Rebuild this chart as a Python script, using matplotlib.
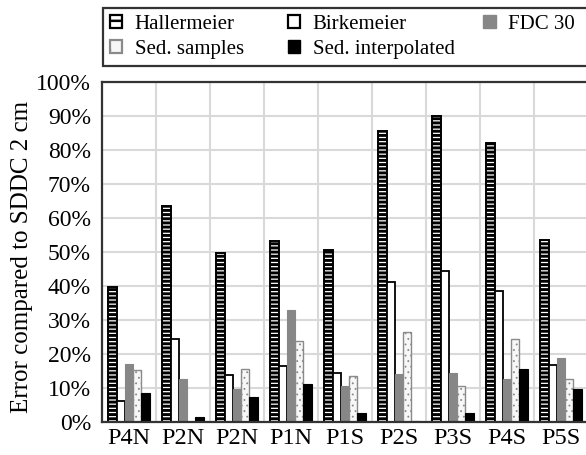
import matplotlib
matplotlib.use("Agg")
import matplotlib.pyplot as plt
import numpy as np
from matplotlib.patches import Patch

categories = ["P4N", "P2N", "P2N", "P1N", "P1S", "P2S", "P3S", "P4S", "P5S"]
hallermeier = [39.8, 63.5, 49.7, 53.2, 50.6, 85.6, 90.0, 82.0, 53.5]
birkemeier = [6.3, 24.3, 13.8, 16.5, 14.5, 41.1, 44.5, 38.5, 16.8]
fdc30 = [17.0, 12.6, 9.7, 32.9, 10.6, 14.1, 14.3, 12.6, 18.9]
sed_samples = [15.3, 0.0, 15.5, 23.9, 13.5, 26.6, 10.6, 24.3, 12.6]
sed_interp = [8.4, 1.6, 7.4, 11.2, 2.6, 0.3, 2.6, 15.5, 9.6]
yticks = [0, 10, 20, 30, 40, 50, 60, 70, 80, 90, 100]

plt.rcParams['font.family'] = ['Liberation Serif', 'DejaVu Serif']

W, H = 586, 455
fig = plt.figure(figsize=(W / 100, H / 100), dpi=100)
ax = fig.add_axes([102 / W, 1 - 422 / H, 486 / W, 340 / H])

x = np.arange(len(categories))
bw = 0.152

styles = [
    dict(facecolor='white', edgecolor='black', hatch='----', linewidth=1.4, hlw=2.1, lh='--', llw=1.6),
    dict(facecolor='white', edgecolor='black', hatch=None, linewidth=1.3, hlw=1.0, lh=None, llw=1.6),
    dict(facecolor='#878787', edgecolor='#878787', hatch=None, linewidth=0.8, hlw=1.0, lh=None, llw=1.0),
    dict(facecolor='#f7f7f7', edgecolor='#8a8a8a', hatch='...', linewidth=1.0, hlw=0.6, lh='.', llw=1.6),
    dict(facecolor='black', edgecolor='black', hatch=None, linewidth=0.8, hlw=1.0, lh=None, llw=1.0),
]
series = [hallermeier, birkemeier, fdc30, sed_samples, sed_interp]
names = ["Hallermeier", "Birkemeier", "FDC 30", "Sed. samples", "Sed. interpolated"]

handles = []
for i, (vals, st, nm) in enumerate(zip(series, styles, names)):
    plt.rcParams['hatch.linewidth'] = st['hlw']
    ax.bar(x + (i - 2) * bw, vals, bw, facecolor=st['facecolor'], edgecolor=st['edgecolor'],
           hatch=st['hatch'], linewidth=st['linewidth'], zorder=3)
    handles.append(Patch(facecolor=st['facecolor'], edgecolor=st['edgecolor'],
                         hatch=st['lh'], linewidth=st['llw'], label=nm))

ax.set_xlim(-0.5, len(categories) - 0.5)
ax.set_ylim(0, 100)
ax.set_yticks(yticks)
ax.set_yticklabels([f"{v}%" for v in yticks], fontsize=17)
ax.set_xticks(x)
ax.set_xticklabels(categories, fontsize=17.5)
ax.set_xticks(np.arange(len(categories) + 1) - 0.5, minor=True)
ax.tick_params(axis='both', which='both', length=0)
ax.tick_params(axis='y', pad=8)
ax.tick_params(axis='x', pad=4)
ax.grid(True, which='minor', axis='x', color='#d9d9d9', linewidth=1.5, zorder=0)
ax.grid(True, which='major', axis='y', color='#d9d9d9', linewidth=1.5, zorder=0)
ax.grid(False, which='major', axis='x')
for s in ax.spines.values():
    s.set_color('#333333')
    s.set_linewidth(1.6)
    s.set_zorder(4)

fig.text(22 / W, 1 - 257 / H, "Error compared to SDDC 2 cm", rotation=90,
         ha='center', va='center', fontsize=18)

order = [0, 3, 1, 4, 2]
# trailing spaces widen the legend columns to match the reference spacing
leg_labels = ["Hallermeier", "Sed. samples   ", "Birkemeier", "Sed. interpolated", "FDC 30  "]
plt.rcParams['hatch.linewidth'] = 1.8
leg = fig.legend([handles[k] for k in order], leg_labels, ncol=3,
                 loc='upper left', bbox_to_anchor=(103 / W, 1 - 63 / H, 489 / W, 55 / H),
                 mode='expand', fontsize=15,
                 frameon=True, fancybox=False, edgecolor='#333333', framealpha=1,
                 handlelength=0.6, handleheight=0.6, handletextpad=0.6,
                 borderpad=0.32, labelspacing=0.3, borderaxespad=0)
leg.get_frame().set_linewidth(1.6)

fig.savefig("out.png", dpi=100)
